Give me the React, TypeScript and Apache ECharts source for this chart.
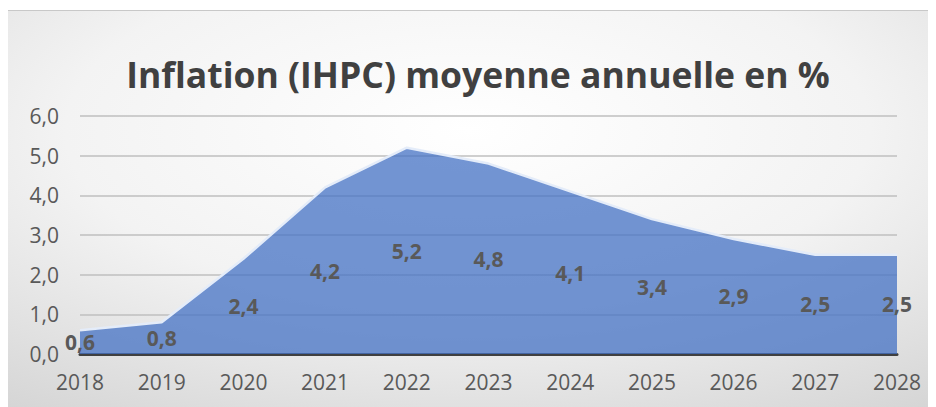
import React, { useEffect, useRef } from "react";
import * as echarts from "echarts";

const years = ["2018", "2019", "2020", "2021", "2022", "2023", "2024", "2025", "2026", "2027", "2028"];
const inflation = [0.6, 0.8, 2.4, 4.2, 5.2, 4.8, 4.1, 3.4, 2.9, 2.5, 2.5];
const titleText = "Inflation (IHPC) moyenne annuelle en %";

const fmt = (v: number) => v.toFixed(1).replace(".", ",");

export default function App() {
  const ref = useRef<HTMLDivElement>(null);
  useEffect(() => {
    if (!ref.current) return;
    const chart = echarts.init(ref.current, undefined, { renderer: "svg" });
    chart.setOption({
      animation: false,
      backgroundColor: new echarts.graphic.RadialGradient(0.5, 0.3, 1.25, [
        { offset: 0, color: "#ffffff" },
        { offset: 0.35, color: "#f3f3f3" },
        { offset: 1, color: "#bababa" },
      ]),
      title: {
        text: titleText,
        left: 465,
        top: 40,
        textAlign: "center",
        textStyle: {
          fontFamily: "Open Sans",
          fontWeight: "bold",
          fontSize: 35.5,
          color: "#404040",
        },
      },
      grid: { left: 72, right: 31, top: 105, bottom: 53 },
      xAxis: {
        type: "category",
        data: years,
        boundaryGap: false,
        axisLine: { show: true, lineStyle: { color: "#404040", width: 3 } },
        axisTick: { show: false },
        axisLabel: {
          color: "#595959",
          fontSize: 21,
          fontFamily: "Open Sans",
          margin: 17,
        },
      },
      yAxis: {
        type: "value",
        min: 0,
        max: 6,
        interval: 1,
        axisLine: { show: false },
        axisTick: { show: false },
        splitLine: { lineStyle: { color: "#bfbfbf", width: 1.5 } },
        axisLabel: {
          color: "#595959",
          fontSize: 21,
          fontFamily: "Open Sans",
          margin: 21,
          formatter: (v: number) => fmt(v),
        },
      },
      series: [
        {
          type: "line",
          data: inflation,
          symbol: "none",
          lineStyle: { color: "#e4ecf9", width: 2.5 },
          areaStyle: { color: "#4472c4", opacity: 0.75 },
          z: 2,
        },
        {
          type: "line",
          data: inflation.map((v) => v / 2),
          symbol: "circle",
          symbolSize: 0,
          lineStyle: { opacity: 0, width: 0 },
          label: {
            show: true,
            position: "inside",
            formatter: (p: any) => fmt(inflation[p.dataIndex]),
            color: "#595959",
            fontSize: 21,
            fontWeight: "bold",
            fontFamily: "Open Sans",
          },
          z: 3,
          silent: true,
        },
      ],
    });
    return () => chart.dispose();
  }, []);
  return (
    <div style={{ paddingTop: 2 }}>
      <div
        ref={ref}
        style={{ width: 920, height: 397, borderTop: "1px solid #c8c8c8", boxSizing: "border-box" }}
      />
    </div>
  );
}
